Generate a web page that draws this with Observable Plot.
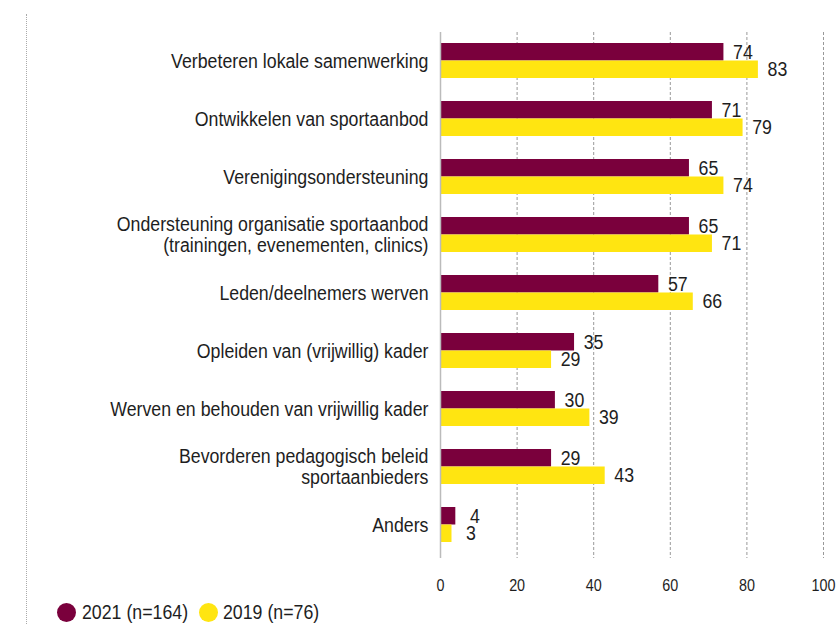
<!DOCTYPE html>
<html><head><meta charset="utf-8">
<script src="https://cdn.jsdelivr.net/npm/d3@7"></script>
<script src="https://cdn.jsdelivr.net/npm/@observablehq/plot@0.6"></script>
<style>
body{margin:0;background:#fff;font-family:"Liberation Sans",Arial,sans-serif;color:#1e1e1e;}
#wrap{position:relative;width:836px;height:624px;overflow:hidden;}
#dots{position:absolute;left:26px;top:14px;height:620px;border-left:1px dotted #aaa;}
.sw{position:absolute;width:19px;height:19px;border-radius:50%;top:603px;}
.lt{position:absolute;top:599px;font-size:21px;line-height:26px;white-space:nowrap;transform:scaleX(0.845);transform-origin:0 50%;}
</style></head>
<body><div id="wrap"><div id="dots"></div><div id="chart"></div>
<div id="legend"></div></div>
<script>
const categories = [
  "Verbeteren lokale samenwerking",
  "Ontwikkelen van sportaanbod",
  "Verenigingsondersteuning",
  "Ondersteuning organisatie sportaanbod\n(trainingen, evenementen, clinics)",
  "Leden/deelnemers werven",
  "Opleiden van (vrijwillig) kader",
  "Werven en behouden van vrijwillig kader",
  "Bevorderen pedagogisch beleid\nsportaanbieders",
  "Anders"
];
const values2021 = [74, 71, 65, 65, 57, 35, 30, 29, 4];
const values2019 = [83, 79, 74, 71, 66, 29, 39, 43, 3];
const xTicks = [0, 20, 40, 60, 80, 100];
const seriesNames = ["2021 (n=164)", "2019 (n=76)"];
const seriesColors = ["#7a003c", "#ffe511"];

const d21 = categories.map((c, i) => ({cat: c, v: values2021[i]}));
const d19 = categories.map((c, i) => ({cat: c, v: values2019[i]}));

const half = 17.5;
const chart = Plot.plot({
  width: 836,
  height: 600,
  marginLeft: 440,
  marginRight: 13,
  marginTop: 32,
  marginBottom: 42,
  style: {fontFamily: '"Liberation Sans",Arial,sans-serif', fontSize: "21px", color: "#1e1e1e", background: "transparent"},
  x: {domain: [0, 100], ticks: xTicks, label: null},
  y: {domain: categories, paddingInner: 0.4, paddingOuter: 0.215, align: 0.4, label: null},
  marks: [
    Plot.ruleX(xTicks.filter(d => d > 0), {stroke: "#999", strokeDasharray: "3,2", strokeWidth: 1}),
    Plot.barX(d21, {x: "v", y: "cat", fill: seriesColors[0], insetBottom: half}),
    Plot.barX(d19, {x: "v", y: "cat", fill: seriesColors[1], insetTop: half}),
    Plot.ruleX([0], {stroke: "#bbb", strokeWidth: 1.5}),
    Plot.axisY({tickSize: 0, tickPadding: 12, fontSize: 21, label: null}),
    Plot.axisX({ticks: xTicks, tickSize: 0, tickPadding: 20, fontSize: 17, label: null}),
    Plot.text(d21, {x: "v", y: "cat", text: d => String(d.v), dx: 19, dy: -half / 2, textAnchor: "middle", fill: "#1e1e1e", fontSize: 21}),
    Plot.text(d19, {x: "v", y: "cat", text: d => String(d.v), dx: 19, dy: half / 2, textAnchor: "middle", fill: "#1e1e1e", fontSize: 21})
  ]
});
// condense all texts horizontally around their anchor point
chart.querySelectorAll("text").forEach(t => {
  let tr = t.getAttribute("transform") || "";
  if (t.hasAttribute("x")) { tr = `translate(${t.getAttribute("x")},0) ` + tr; t.removeAttribute("x"); }
  t.setAttribute("transform", tr + " scale(0.845,1)");
});
document.getElementById("chart").appendChild(chart);

const legend = document.getElementById("legend");
const swLeft = [57, 199], txLeft = [82, 223];
seriesNames.forEach((n, i) => {
  const s = document.createElement("span"); s.className = "sw"; s.style.left = swLeft[i] + "px"; s.style.background = seriesColors[i]; legend.appendChild(s);
  const t = document.createElement("span"); t.className = "lt"; t.style.left = txLeft[i] + "px"; t.textContent = n; legend.appendChild(t);
});
</script></body></html>
